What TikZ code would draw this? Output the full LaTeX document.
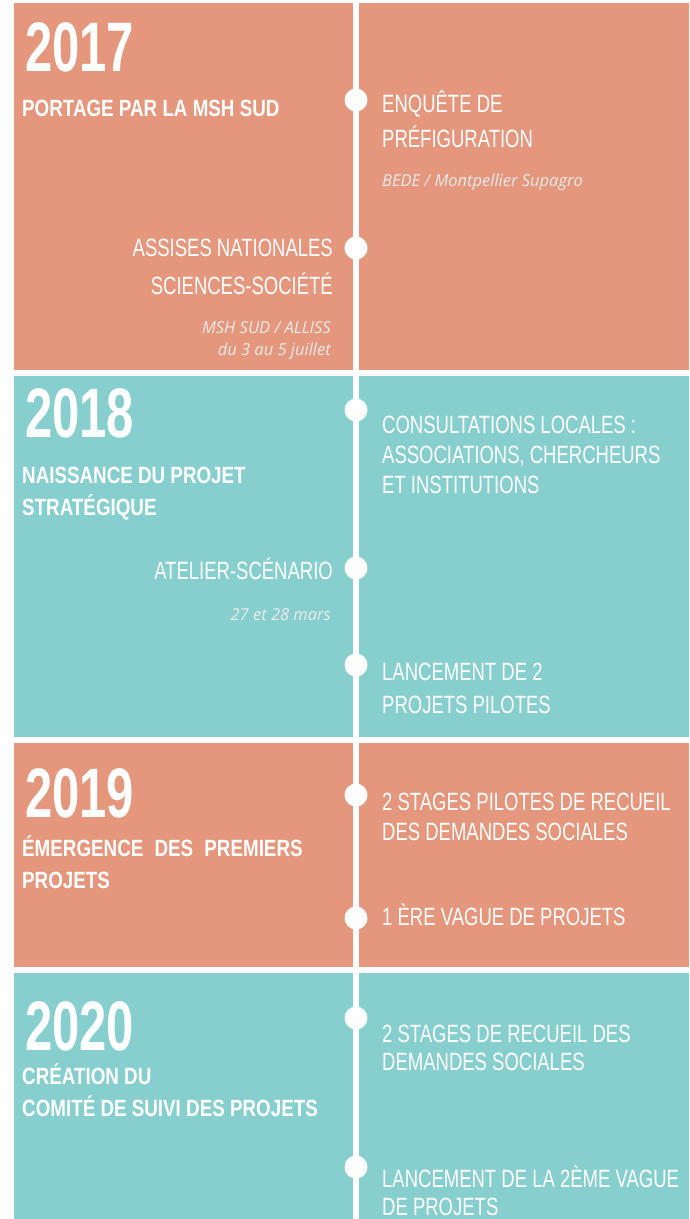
\documentclass[tikz,border=0pt]{standalone}
\usepackage{fontspec}
\setmainfont{Liberation Sans}
\newfontfamily\narrowfont[FakeStretch=0.74]{Liberation Sans}
\newfontfamily\narrowbold[FakeStretch=0.8]{Liberation Sans Bold}
\newfontfamily\yearfont[FakeStretch=0.7]{Liberation Sans Bold}
\newfontfamily\notefont{Open Sans}
\definecolor{salmon}{RGB}{228,151,124}
\definecolor{lagoon}{RGB}{135,207,206}

\begin{document}
\begin{tikzpicture}[x=1pt,y=-1pt,
  item/.style={text=white,inner sep=0pt,anchor=west,align=left,
    font={\narrowfont\fontsize{25}{30}\selectfont}},
  event/.style={item,anchor=east,align=right},
  head/.style={text=white,inner sep=0pt,anchor=west,align=left,
    font={\narrowbold\fontsize{23.5}{32}\selectfont}},
  year/.style={text=white,inner sep=0pt,anchor=west,
    font={\yearfont\fontsize{70}{70}\selectfont}},
  note/.style={text=white!92!black,inner sep=0pt,align=right,
    font={\notefont\itshape\fontsize{16.5}{22}\selectfont}},
  dot/.style={circle,fill=white,minimum size=23pt,inner sep=0pt}]
  \useasboundingbox (0,0) rectangle (689,1219);
  \fill[white] (0,0) rectangle (689,1219);

  % year bands
  \foreach \ya/\yb/\col in {3/370/salmon, 376/737/lagoon, 743/967/salmon, 973/1219/lagoon}
    \fill[\col] (14,\ya) rectangle (689,\yb);

  % time line
  \coordinate (top) at (356,0);
  \coordinate (bot) at (356,1219);
  \draw[white,line width=6pt] (top) -- (bot);
  \foreach \n/\y in {a/100, b/248, c/410, d/568, e/665, f/795, g/918, h/1018, i/1167}
    \node[dot] (dot\n) at (356,\y) {};

  % 2017
  \node[year] (y17) at (25,47) {2017};
  \node[head] (portage) at (22,108) {PORTAGE PAR LA MSH SUD};
  \node[item] (enquete) at (382,119) {ENQUÊTE DE\\[5pt]PRÉFIGURATION};
  \node[note,anchor=west] (bede) at (382,182) {BEDE / Montpellier Supagro};
  \node[event] (assises) at (333,267) {ASSISES NATIONALES\\[8pt]SCIENCES-SOCIÉTÉ};
  \node[note,anchor=east] (alliss) at (331,341) {MSH SUD / ALLISS\\du 3 au 5 juillet};

  % 2018
  \node[year] (y18) at (25,413) {2018};
  \node[head] (naissance) at (22,494) {NAISSANCE DU PROJET\\STRATÉGIQUE};
  \node[item] (consult) at (382,455) {CONSULTATIONS LOCALES :\\ASSOCIATIONS, CHERCHEURS\\ET INSTITUTIONS};
  \node[event] (atelier) at (333,569) {ATELIER-SCÉNARIO};
  \node[note,anchor=east] (mars) at (331,615) {27 et 28 mars};
  \node[item] (pilotes) at (382,688) {LANCEMENT DE 2\\[3pt]PROJETS PILOTES};

  % 2019
  \node[year] (y19) at (25,793) {2019};
  \node[head] (emergence) at (22,862) {ÉMERGENCE\hspace{6pt} DES\hspace{6pt} PREMIERS\\PROJETS};
  \node[item] (stages) at (382,817) {2 STAGES PILOTES DE RECUEIL\\DES DEMANDES SOCIALES};
  \node[item] (vague) at (382,915) {1 ÈRE VAGUE DE PROJETS};

  % 2020
  \node[year] (y20) at (25,1026) {2020};
  \node[head] (comite) at (22,1090) {CRÉATION DU\\COMITÉ DE SUIVI DES PROJETS};
  \node[item] (recueil) at (382,1048) {2 STAGES DE RECUEIL DES\\[-2pt]DEMANDES SOCIALES};
  \node[item] (vague2) at (382,1191) {LANCEMENT DE LA 2ÈME VAGUE\\[-2pt]DE PROJETS};
\end{tikzpicture}
\end{document}
